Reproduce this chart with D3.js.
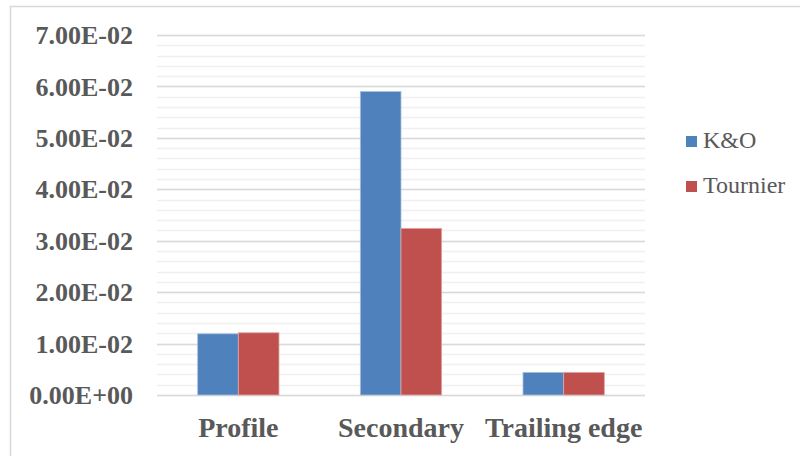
<!DOCTYPE html>
<html lang="en">
<head>
    <meta charset="UTF-8">
    <title>K&amp;O vs Tournier</title>
    <script src="https://d3js.org/d3.v7.min.js"></script>
    <style>
        body { margin: 0; background: #fff; }
        text { font-family: "Liberation Serif", "Times New Roman", serif; fill: #595959; }
    </style>
</head>
<body>
<script>
    // data
    var categories = ["Profile", "Secondary", "Trailing edge"];
    var seriesNames = ["K&O", "Tournier"];
    var koValues = [0.0119, 0.0590, 0.0044];
    var tournierValues = [0.0121, 0.0324, 0.0044];
    var yTicks = [0, 0.01, 0.02, 0.03, 0.04, 0.05, 0.06, 0.07];
    var colors = ["#4F81BD", "#C0504D"];

    var width = 800, height = 456;
    var svg = d3.select("body").append("svg")
        .attr("width", width)
        .attr("height", height);

    // chart border (cropped at right/bottom like the reference)
    svg.append("rect")
        .attr("x", 10.5).attr("y", 6.5)
        .attr("width", 800).attr("height", 460)
        .attr("fill", "none")
        .attr("stroke", "#D9D9D9")
        .attr("stroke-width", 1.5);

    var plotLeft = 157, plotRight = 645, plotTop = 35, plotBottom = 395;

    var y = d3.scaleLinear().domain([0, 0.07]).range([plotBottom, plotTop]);
    var x0 = d3.scaleBand().domain(categories).range([plotLeft, plotRight]).paddingInner(0.5).paddingOuter(0.25);
    var x1 = d3.scaleBand().domain(seriesNames).range([0, x0.bandwidth()]);

    // minor gridlines
    var minor = d3.range(0, 0.0701, 0.002);
    svg.append("g").selectAll("line")
        .data(minor)
        .enter().append("line")
        .attr("x1", plotLeft).attr("x2", plotRight)
        .attr("y1", function(d) { return Math.round(y(d)) + 0.5; })
        .attr("y2", function(d) { return Math.round(y(d)) + 0.5; })
        .attr("stroke", "#F0F0F0")
        .attr("stroke-width", 1.5);

    // major gridlines
    svg.append("g").selectAll("line")
        .data(yTicks)
        .enter().append("line")
        .attr("x1", plotLeft).attr("x2", plotRight)
        .attr("y1", function(d) { return Math.round(y(d)) + 0.5; })
        .attr("y2", function(d) { return Math.round(y(d)) + 0.5; })
        .attr("stroke", "#D9D9D9")
        .attr("stroke-width", 1.5);

    // y axis labels
    svg.append("g").selectAll("text")
        .data(yTicks)
        .enter().append("text")
        .attr("x", 133)
        .attr("y", function(d) { return y(d); })
        .attr("dy", "0.35em")
        .attr("text-anchor", "end")
        .style("font-size", "26px")
        .style("font-weight", "bold")
        .text(function(d) { return d3.format(".2e")(d).toUpperCase().replace(/E([+-])(\d)$/, "E$10$2"); });

    // bars
    var rows = categories.map(function(c, i) {
        return { cat: c, vals: [koValues[i], tournierValues[i]] };
    });
    var groups = svg.append("g").selectAll("g")
        .data(rows)
        .enter().append("g")
        .attr("transform", function(d) { return "translate(" + x0(d.cat) + ",0)"; });
    groups.selectAll("rect")
        .data(function(d) { return d.vals.map(function(v, j) { return { key: seriesNames[j], v: v, j: j }; }); })
        .enter().append("rect")
        .attr("x", function(d) { return x1(d.key); })
        .attr("y", function(d) { return y(d.v); })
        .attr("width", x1.bandwidth())
        .attr("height", function(d) { return plotBottom - y(d.v); })
        .attr("fill", function(d) { return colors[d.j]; })
        .attr("stroke", function(d) { return d.j == 0 ? "#A7C0DE" : "#DFA8A6"; })
        .attr("stroke-width", 0.8);

    // x axis labels
    svg.append("g").selectAll("text")
        .data(categories)
        .enter().append("text")
        .attr("x", function(d) { return x0(d) + x0.bandwidth() / 2; })
        .attr("y", 437)
        .attr("text-anchor", "middle")
        .style("font-size", "28px")
        .style("font-weight", "bold")
        .text(function(d) { return d; });

    // legend
    var legend = svg.append("g").selectAll("g")
        .data(seriesNames)
        .enter().append("g")
        .attr("transform", function(d, i) { return "translate(686," + (136 + i * 45) + ")"; });
    legend.append("rect")
        .attr("width", 11).attr("height", 11)
        .attr("fill", function(d, i) { return colors[i]; });
    legend.append("text")
        .attr("x", 17).attr("y", 12)
        .style("font-size", "24px")
        .text(function(d) { return d; });
</script>
</body>
</html>
